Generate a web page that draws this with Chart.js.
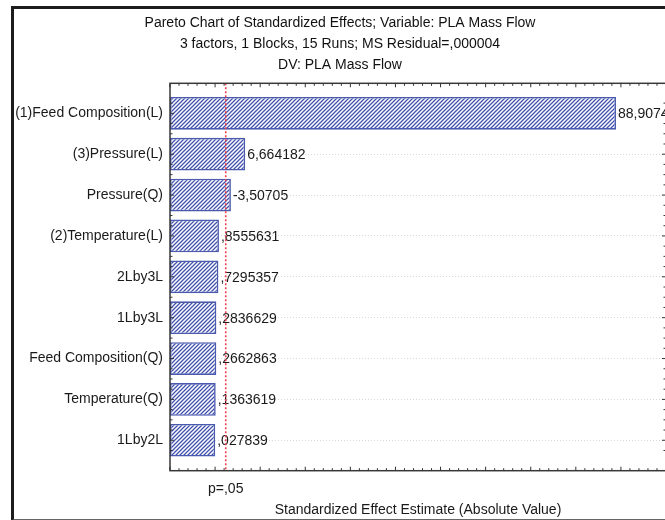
<!DOCTYPE html>
<html>
<head>
<meta charset="utf-8">
<script src="https://cdn.jsdelivr.net/npm/chart.js@4/dist/chart.umd.min.js"></script>
<style>
  html, body { margin: 0; padding: 0; background: #fff; overflow: hidden; }
  body { width: 665px; height: 520px; position: relative; }
  #frame {
    position: absolute; left: 11px; top: 6px;
    width: 700px; height: 510px;
    border-left: 3px solid #1c1c1c;
    border-top: 3px solid #1c1c1c;
    border-bottom: 2px solid #666;
  }
  #chart { display: block; }
</style>
</head>
<body>
<div id="frame"><canvas id="chart" width="654" height="510"></canvas></div>
<script>
const effectNames = [
    "(1)Feed Composition(L)", "(3)Pressure(L)", "Pressure(Q)", "(2)Temperature(L)",
    "2Lby3L", "1Lby3L", "Feed Composition(Q)", "Temperature(Q)", "1Lby2L"
];
const effectValues = [88.9074, 6.664182, -3.50705, 0.8555631, 0.7295357, 0.2836629, 0.2662863, 0.1363619, 0.027839];
const pCritical = 2.36;
const pLabel = "p=,05";
const axisMin = -10;
const axisMax = 100;

const titleLines = [
    "Pareto Chart of Standardized Effects; Variable: PLA Mass Flow",
    "3 factors, 1 Blocks, 15 Runs; MS Residual=,000004",
    "DV: PLA Mass Flow"
];

const FONT = "'Liberation Sans', Arial, sans-serif";

// statistica style numbers: comma decimal, no leading zero
function fmt(v) {
    let s = String(v).replace(".", ",");
    return s.replace(/^0,/, ",").replace(/^-0,/, "-,");
}

function makeHatch(ctx) {
    const c = document.createElement("canvas");
    c.width = 4; c.height = 4;
    const g = c.getContext("2d");
    g.fillStyle = "#fff";
    g.fillRect(0, 0, 4, 4);
    g.strokeStyle = "#4252ac";
    g.lineWidth = 1.25;
    g.beginPath();
    g.moveTo(0, 4); g.lineTo(4, 0);
    g.moveTo(-1, 1); g.lineTo(1, -1);
    g.moveTo(3, 5); g.lineTo(5, 3);
    g.stroke();
    return ctx.createPattern(c, "repeat");
}

const paretoDecor = {
    id: "paretoDecor",
    afterDatasetsDraw(chart) {
        const ctx = chart.ctx;
        const a = chart.chartArea;
        const xs = chart.scales.x;
        const ys = chart.scales.y;
        const top = a.top - 9.6;
        const bottom = a.bottom + 10;

        // value labels
        ctx.save();
        ctx.font = "14px " + FONT;
        ctx.fillStyle = "#1a1a1a";
        ctx.textBaseline = "middle";
        ctx.textAlign = "left";
        chart.getDatasetMeta(0).data.forEach((bar, i) => {
            ctx.fillText(fmt(effectValues[i]), bar.x + 2, bar.y + 1);
        });
        ctx.restore();

        // p=.05 line
        const px = xs.getPixelForValue(pCritical);
        ctx.save();
        ctx.strokeStyle = "#f0404c";
        ctx.lineWidth = 1.6;
        ctx.setLineDash([2, 2]);
        ctx.beginPath();
        ctx.moveTo(px, top);
        ctx.lineTo(px, bottom);
        ctx.stroke();
        ctx.restore();

        // plot frame
        ctx.save();
        ctx.strokeStyle = "#3a3a3a";
        ctx.lineWidth = 1.5;
        ctx.strokeRect(a.left, top, a.right - a.left, bottom - top);

        // x ticks, top and bottom, pointing inward
        ctx.lineWidth = 1;
        ctx.strokeStyle = "#333";
        ctx.beginPath();
        for (let v = axisMin; v <= axisMax; v += 2) {
            const x = xs.getPixelForValue(v);
            const len = v % 10 === 0 ? 4 : 2.5;
            ctx.moveTo(x, top); ctx.lineTo(x, top + len);
            ctx.moveTo(x, bottom); ctx.lineTo(x, bottom - len);
        }
        // y ticks, left and right
        for (let k = -1; k <= effectNames.length * 4 - 3; k++) {
            const y = ys.getPixelForValue(k / 4);
            if (y < top || y > bottom) continue;
            const len = k % 4 === 0 ? 4 : 2.5;
            ctx.moveTo(a.left, y); ctx.lineTo(a.left + len, y);
            ctx.moveTo(a.right, y); ctx.lineTo(a.right - len, y);
        }
        ctx.stroke();
        ctx.restore();
    }
};

function buildChart() {
    const canvas = document.getElementById("chart");
    const ctx = canvas.getContext("2d");
    const hatch = makeHatch(ctx);

    new Chart(ctx, {
        type: "bar",
        data: {
            labels: effectNames,
            datasets: [{
                data: effectValues.map(v => Math.abs(v)),
                base: axisMin,
                backgroundColor: hatch,
                borderColor: "#4a5aae",
                borderWidth: 1.6,
                borderSkipped: false,
                categoryPercentage: 1,
                barPercentage: 0.8
            }]
        },
        options: {
            indexAxis: "y",
            responsive: false,
            animation: false,
            layout: { padding: { left: 0, right: 2, top: 0, bottom: 0 } },
            plugins: {
                legend: { display: false },
                tooltip: { enabled: false },
                title: {
                    display: true,
                    text: titleLines,
                    color: "#111",
                    font: { family: FONT, size: 14, weight: "normal", lineHeight: 1.5 },
                    padding: { top: 3.5, bottom: 17.4 }
                }
            },
            scales: {
                x: {
                    type: "linear",
                    min: axisMin,
                    max: axisMax,
                    afterBuildTicks: s => { s.ticks = [{ value: pCritical }]; },
                    afterFit: s => { s.height = 58.3; },
                    grid: { display: false, drawTicks: false },
                    border: { display: false },
                    ticks: {
                        padding: 20,
                        color: "#1a1a1a",
                        font: { family: FONT, size: 14 },
                        callback: () => pLabel,
                        maxRotation: 0
                    },
                    title: {
                        display: true,
                        text: "Standardized Effect Estimate (Absolute Value)",
                        color: "#1a1a1a",
                        font: { family: FONT, size: 14 },
                        padding: { top: 0, bottom: 0 }
                    }
                },
                y: {
                    type: "category",
                    afterFit: s => { s.width = 156; },
                    grid: { color: "#d8d8d8", offset: false, drawTicks: false, lineWidth: 1 },
                    border: { display: false, dash: [1, 2] },
                    ticks: {
                        padding: 7,
                        color: "#1a1a1a",
                        font: { family: FONT, size: 14 }
                    }
                }
            }
        },
        plugins: [paretoDecor]
    });
}

document.addEventListener("DOMContentLoaded", buildChart);
</script>
</body>
</html>
